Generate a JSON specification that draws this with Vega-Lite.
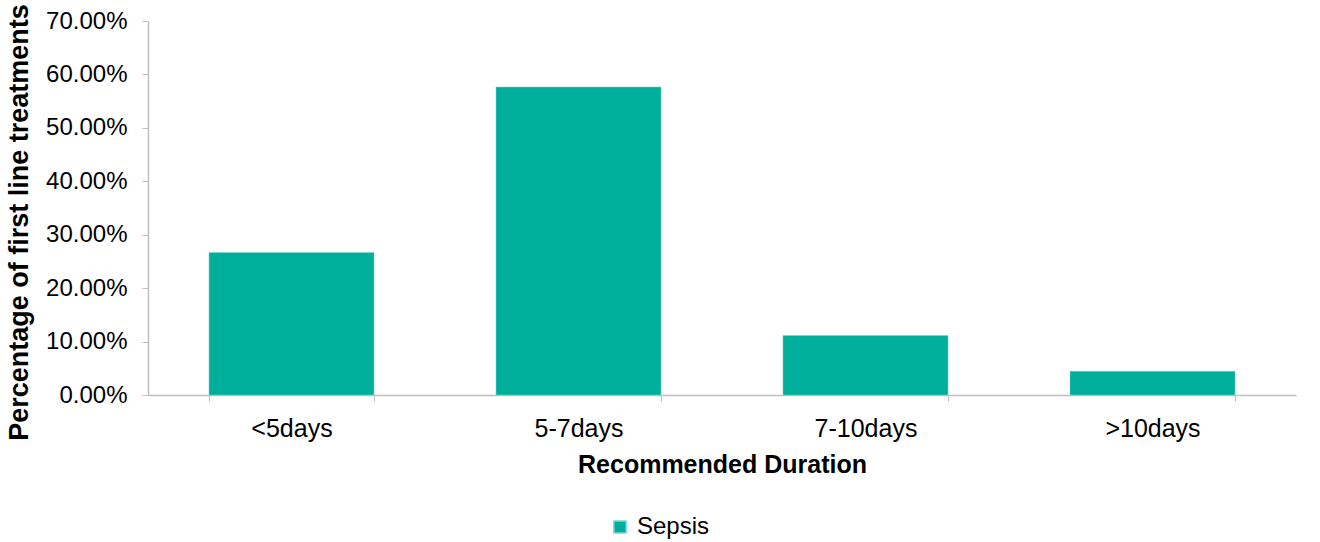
{
  "$schema": "https://vega.github.io/schema/vega-lite/v6.json",
  "width": 1148,
  "height": 374,
  "autosize": "none",
  "padding": {"left": 148, "top": 21, "right": 24, "bottom": 147},
  "background": "white",
  "config": {
    "view": {"stroke": null},
    "font": "Liberation Sans",
    "axis": {"grid": false, "domainColor": "#BFBFBF", "tickColor": "#BFBFBF", "labelColor": "#000000", "titleColor": "#000000", "labelFont": "Liberation Sans", "titleFont": "Liberation Sans"}
  },
  "data": {"values": [
    {"duration": "<5days", "pct": 0.2665, "series": "Sepsis"},
    {"duration": "5-7days", "pct": 0.5765, "series": "Sepsis"},
    {"duration": "7-10days", "pct": 0.1115, "series": "Sepsis"},
    {"duration": ">10days", "pct": 0.0445, "series": "Sepsis"}
  ]},
  "mark": {"type": "bar", "stroke": "#7FD6CD", "strokeWidth": 0.5},
  "encoding": {
    "x": {
      "field": "duration", "type": "nominal", "sort": null,
      "scale": {"paddingInner": 0.425, "paddingOuter": 0.2125},
      "axis": {"title": "Recommended Duration", "labelAngle": 0, "labelFontSize": 25, "titleFontSize": 25, "titleFontWeight": "bold", "tickBand": "extent", "tickSize": 6, "labelPadding": 15, "titlePadding": 11, "domainWidth": 1.5}
    },
    "y": {
      "field": "pct", "type": "quantitative",
      "scale": {"domain": [0, 0.7]},
      "axis": {"title": "Percentage of first line treatments", "format": ".2%", "values": [0, 0.1, 0.2, 0.3, 0.4, 0.5, 0.6, 0.7], "labelFontSize": 24, "titleFontSize": 27, "titleFontWeight": "bold", "tickSize": 6, "labelPadding": 15, "titlePadding": 12, "titleY": 201, "domainWidth": 1.5}
    },
    "color": {
      "field": "series", "type": "nominal",
      "scale": {"range": ["#00AE9C"]},
      "legend": {"title": null, "orient": "none", "legendX": 460, "legendY": 494, "symbolType": "square", "symbolSize": 150, "labelFontSize": 24, "labelColor": "#000000", "labelFont": "Liberation Sans", "labelOffset": 5}
    }
  }
}
